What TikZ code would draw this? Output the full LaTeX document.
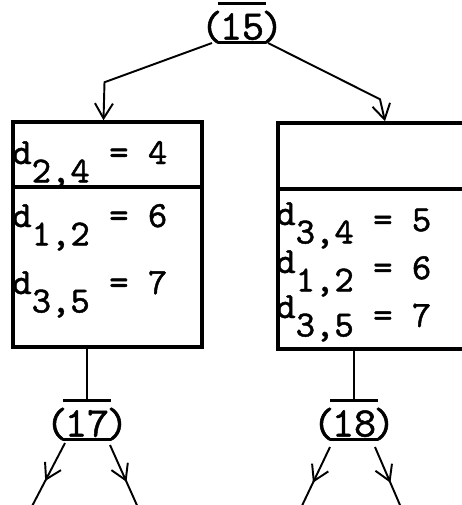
\documentclass[tikz,border=0pt]{standalone}
\usepackage{fontspec}
\setmonofont{lmmono10-regular.otf}[FakeBold=1.2]
\usetikzlibrary{calc,arrows.meta,decorations.markings}

% number with a bar above and below
\newcommand{\ovun}[1]{\lower2.5pt\vbox{\hrule height1.7pt\kern4.5pt\hbox{\kern1.2pt#1\kern1.2pt}\kern.8pt\hrule height1.7pt}}
% one distance entry, typewriter style
\newcommand{\dv}[4][0pt]{d\raisebox{-.5em}{#2,#3}\ \raisebox{-#1}{= #4}}

\begin{document}
\begin{tikzpicture}[x=0.02cm,y=-0.02cm,
  every node/.style={font=\ttfamily\fontsize{21}{25}\selectfont},
  num/.style={font=\ttfamily\fontsize{24}{28}\selectfont,inner sep=0pt,anchor=base},
  row/.style={inner sep=0pt,anchor=base west},
  cell/.style={draw,line width=2pt,inner sep=0pt},
  ln/.style={line width=1.1pt},
  arr/.style={ln,-{Straight Barb[length=3mm,width=3.6mm]}},
  midarr/.style={postaction={decorate},decoration={markings,
    mark=at position .55 with {\arrow{Straight Barb[length=3mm,width=3.6mm]}}}}]
  \useasboundingbox (0,0) rectangle (461,505);
  % labels
  \node[num] (n15) at (242,40) {(\kern-.12em\ovun{15}\kern-.12em)};
  \node[num] (n17) at (87,437) {(\kern-.12em\ovun{17}\kern-.12em)};
  \node[num] (n18) at (354,437) {(\kern-.12em\ovun{18}\kern-.12em)};
  % boxes
  \node[cell,minimum width=3.78cm,minimum height=1.30cm] (la) at (107.5,154.5) {};
  \node[cell,minimum width=3.78cm,minimum height=3.20cm] (lb) at (107.5,267) {};
  \node[cell,minimum width=4.04cm,minimum height=1.32cm] (ra) at (379,156) {};
  \node[cell,minimum width=4.04cm,minimum height=3.20cm] (rb) at (379,269) {};
  % entries
  \node[row] (l1) at (12,164) {\dv{2}{4}{4}};
  \node[row] (l2) at (12,227) {\dv{1}{2}{6}};
  \node[row] (l3) at (12,294) {\dv{3}{5}{7}};
  \node[row] (r1) at (276,225) {\dv[3.5pt]{3}{4}{5}};
  \node[row] (r2) at (276,273) {\dv[3.5pt]{1}{2}{6}};
  \node[row] (r3) at (276,318) {\dv[5pt]{3}{5}{7}};
  % connectors
  \draw[arr] ($(n15.base)+(-30,3)$) -- ($(la.north)+(-3,-38)$) -- ($(la.north)+(-4,0)$);
  \draw[arr] ($(n15.base)+(26,3)$) -- ($(ra.north)+(1,-22)$) -- ($(ra.north)+(6,0)$);
  \draw[ln] (n17.north) -- (n17.north |- lb.south);
  \draw[ln] (n18.north) -- (n18.north |- rb.south);
  \coordinate (e17l) at (29,512);
  \coordinate (e17r) at (140,512);
  \coordinate (e18l) at (299,512);
  \coordinate (e18r) at (403,512);
  \draw[ln,midarr] ($(n17.base)+(-22,6)$) -- (e17l);
  \draw[ln,midarr] ($(n17.base)+(23,8)$) -- (e17r);
  \draw[ln,midarr] ($(n18.base)+(-24,10)$) -- (e18l);
  \draw[ln,midarr] ($(n18.base)+(21,10)$) -- (e18r);
\end{tikzpicture}
\end{document}
